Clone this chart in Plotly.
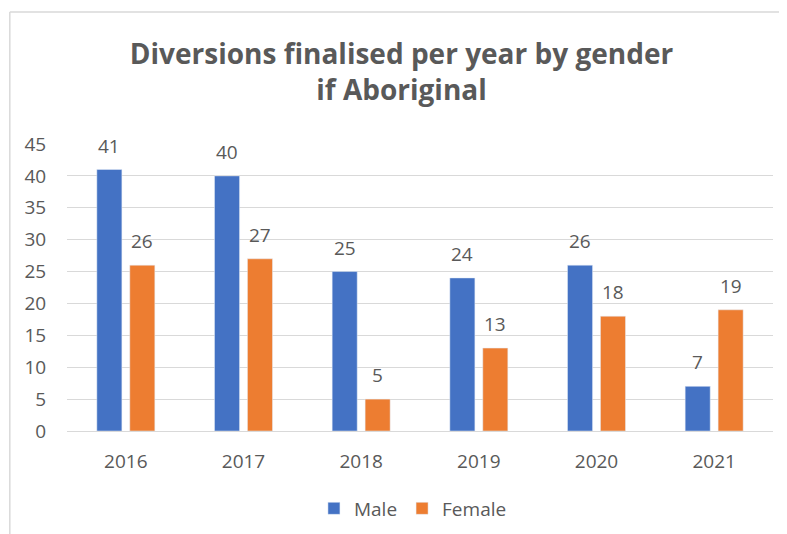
import plotly.graph_objects as go

years = ["2016", "2017", "2018", "2019", "2020", "2021"]
male = [41, 40, 25, 24, 26, 7]
female = [26, 27, 5, 13, 18, 19]

FONT = "Open Sans"
GREY = "#595959"
FS = 19

fig = go.Figure()
fig.add_trace(go.Bar(x=years, y=male, name="Male", marker_color="#4472C4"))
fig.add_trace(go.Bar(x=years, y=female, name="Female", marker_color="#ED7D31"))

annotations = []
for vals, shift in ((male, -16.5), (female, 16.5)):
    for i, v in enumerate(vals):
        annotations.append(dict(x=i, y=v, xref="x", yref="y", text=str(v),
                                showarrow=False, xanchor="center", yanchor="bottom",
                                xshift=shift, yshift=9,
                                font=dict(family=FONT, size=FS, color=GREY)))

fig.update_layout(
    width=787, height=534,
    margin=dict(l=59, r=22, t=136, b=111),
    paper_bgcolor="white", plot_bgcolor="white",
    barmode="group", bargap=0.44, bargroupgap=0.24,
    title=dict(text="<b>Diversions finalised per year by gender<br>if Aboriginal</b>",
               x=0.5, xanchor="center", y=0.895, yanchor="middle",
               font=dict(family=FONT, size=28, color=GREY)),
    font=dict(family=FONT, size=FS, color=GREY),
    legend=dict(orientation="h", x=0.49, xanchor="center", y=-0.27, yanchor="middle",
                font=dict(family=FONT, size=FS, color=GREY), itemwidth=30),
    xaxis=dict(type="category", range=[-0.5, len(years) - 0.5], showgrid=False, showline=False,
               ticks="outside", ticklen=13, tickcolor="rgba(0,0,0,0)",
               tickfont=dict(family=FONT, size=FS, color=GREY)),
    yaxis=dict(range=[0, 45], dtick=5, showgrid=True, gridcolor="#d9d9d9", gridwidth=1,
               zeroline=True, zerolinecolor="#d9d9d9", zerolinewidth=1,
               ticks="outside", ticklen=16, tickcolor="rgba(0,0,0,0)",
               tickfont=dict(family=FONT, size=FS, color=GREY)),
    annotations=annotations,
    shapes=[
        dict(type="line", xref="paper", yref="paper", x0=-0.081, x1=1.1, y0=1.46, y1=1.46,
             line=dict(color="#d9d9d9", width=1.5)),
        dict(type="line", xref="paper", yref="paper", x0=-0.081, x1=-0.081, y0=1.46, y1=-0.5,
             line=dict(color="#d9d9d9", width=1.5)),
    ],
)

fig.write_html("out.html")
